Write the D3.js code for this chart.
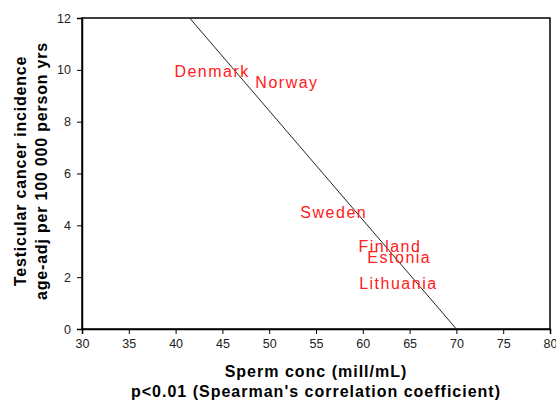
<!DOCTYPE html>
<html>
<head>
<meta charset="utf-8">
<script src="https://cdn.jsdelivr.net/npm/d3@7"></script>
<style>
  body { margin: 0; background: #fff; }
  svg { font-family: "Liberation Sans", Arial, sans-serif; }
</style>
</head>
<body>
<svg width="556" height="401"></svg>
<script>
// country labels placed at (sperm conc, incidence)
let countries = ['Denmark', 'Norway', 'Sweden', 'Finland', 'Estonia', 'Lithuania']
let spermConc = [43.9, 51.9, 56.9, 62.9, 63.9, 63.8]
let incidence = [9.95, 9.5, 4.5, 3.2, 2.75, 1.75]

// regression line end points
let lineX = [41.5, 70]
let lineY = [12, 0]

let xTicks = [30, 35, 40, 45, 50, 55, 60, 65, 70, 75, 80]
let yTicks = [0, 2, 4, 6, 8, 10, 12]

var svg = d3.select("svg")
let plotLeft = 82, plotRight = 550, plotTop = 18, plotBottom = 329

var x = d3.scaleLinear().domain([30, 80]).range([plotLeft, plotRight])
var y = d3.scaleLinear().domain([0, 12]).range([plotBottom, plotTop])

// frame
svg.append("rect")
  .attr("x", plotLeft).attr("y", plotTop)
  .attr("width", plotRight - plotLeft).attr("height", plotBottom - plotTop)
  .attr("fill", "none").attr("stroke", "#000").attr("stroke-width", 1.5)

let xAxis = svg.append("g")
  .attr("transform", `translate(0,${plotBottom})`)
  .call(d3.axisBottom(x).tickValues(xTicks).tickSizeOuter(0).tickSize(5).tickPadding(5))
let yAxis = svg.append("g")
  .attr("transform", `translate(${plotLeft},0)`)
  .call(d3.axisLeft(y).tickValues(yTicks).tickSizeOuter(0).tickSize(5).tickPadding(6))

for (let ax of [xAxis, yAxis]) {
  ax.select(".domain").attr("stroke-width", 1.5)
  ax.selectAll("text").attr("font-size", 12.5).attr("fill", "#222")
    .attr("font-family", "Liberation Sans, Arial, sans-serif")
}

// fitted line
svg.append("line")
  .attr("x1", x(lineX[0])).attr("y1", y(lineY[0]))
  .attr("x2", x(lineX[1])).attr("y2", y(lineY[1]))
  .attr("stroke", "#222").attr("stroke-width", 1)

svg.append("g")
  .selectAll("text")
  .data(countries)
  .enter()
  .append("text")
  .attr("x", (d, i) => x(spermConc[i]))
  .attr("y", (d, i) => y(incidence[i]))
  .attr("text-anchor", "middle")
  .attr("dominant-baseline", "central")
  .attr("font-size", 16)
  .attr("letter-spacing", 1.5)
  .attr("fill", "#ff2020")
  .text(d => d)

// axis titles
svg.append("text")
  .attr("x", 316).attr("y", 377)
  .attr("text-anchor", "middle")
  .attr("font-size", 16).attr("font-weight", "bold").attr("letter-spacing", 1)
  .text("Sperm conc (mill/mL)")
svg.append("text")
  .attr("x", 316).attr("y", 397)
  .attr("text-anchor", "middle")
  .attr("font-size", 16).attr("font-weight", "bold").attr("letter-spacing", 1)
  .text("p<0.01 (Spearman's correlation coefficient)")

let yt = svg.append("text")
  .attr("transform", "translate(26,171) rotate(-90)")
  .attr("text-anchor", "middle")
  .attr("font-size", 16).attr("font-weight", "bold").attr("letter-spacing", 0.8)
yt.append("tspan").attr("x", 0).attr("dy", 0).text("Testicular cancer incidence")
yt.append("tspan").attr("x", 0).attr("dy", 21).text("age-adj per 100 000 person yrs")
</script>
</body>
</html>
